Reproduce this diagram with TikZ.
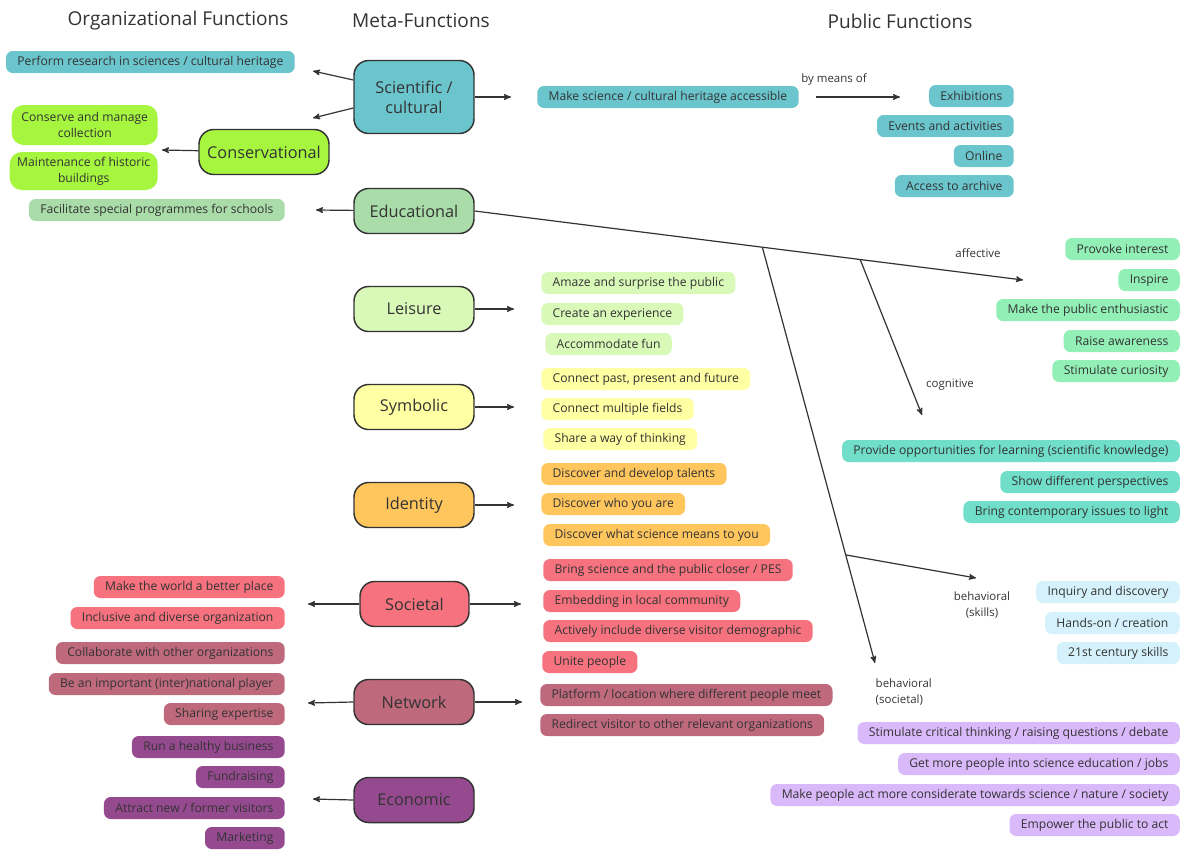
\documentclass[tikz,border=0pt]{standalone}
\usepackage{fontspec}
\setmainfont{Open Sans}
\usepackage{xcolor}
\usepackage{tikz}
\usetikzlibrary{arrows,positioning,calc}
\definecolor{txt}{HTML}{333333}
\definecolor{scicol}{HTML}{6BC5CD}
\definecolor{conscol}{HTML}{A6F53E}
\definecolor{educol}{HTML}{A9DCA9}
\definecolor{leiscol}{HTML}{D9F9B9}
\definecolor{symbcol}{HTML}{FFFFA3}
\definecolor{idencol}{HTML}{FFC65E}
\definecolor{soccol}{HTML}{F5727E}
\definecolor{netcol}{HTML}{BF697D}
\definecolor{econcol}{HTML}{954A8F}
\definecolor{affcol}{HTML}{92EFB5}
\definecolor{cogcol}{HTML}{70DEC9}
\definecolor{skillcol}{HTML}{D5F2FC}
\definecolor{behcol}{HTML}{DAB9FA}
\tikzset{>=stealth'}
\tikzset{meta node/.style={draw=txt,line width=1.1pt,rounded corners=11pt,minimum width=90pt,minimum height=33.75pt,
            font=\fontsize{12.2}{15}\selectfont,text=txt,align=center},
         item/.style={rounded corners=5pt,minimum height=16.5pt,inner xsep=8.5pt,inner ysep=0pt,
            font=\fontsize{9.1}{12}\selectfont,text=txt},
         big item/.style={item,rounded corners=9pt,align=center,inner xsep=0pt},
         head/.style={font=\fontsize{14.3}{18}\selectfont,text=txt},
         lbl/.style={font=\fontsize{8.6}{11.5}\selectfont,text=txt},
         link/.style={->,line width=0.9pt,draw=txt},
            }
\begin{document}
\begin{tikzpicture}[x=0.75pt,y=-0.75pt]
    \useasboundingbox (0,0) rectangle (1184,854);

    % headings
    \node[head] (h1) at (178,21) {Organizational Functions};
    \node[head] (h2) at (421,21) {Meta-Functions};
    \node[head] (h3) at (900,21) {Public Functions};

    % meta-functions
    \node[meta node,fill=scicol,minimum height=54.75pt] (sci) at (414,97) {Scientific /\\cultural};
    \node[meta node,fill=conscol,minimum width=97.5pt] (cons) at (264,152) {Conservational};
    \node[meta node,fill=educol] (edu) at (414,211) {Educational};
    \node[meta node,fill=leiscol] (leis) at (414,309) {Leisure};
    \node[meta node,fill=symbcol] (symb) at (414,407) {Symbolic};
    \node[meta node,fill=idencol] (iden) at (414,505) {Identity};
    \node[meta node,fill=soccol,minimum width=81.75pt] (soc) at (414.5,604) {Societal};
    \node[meta node,fill=netcol] (netw) at (414,702) {Network};
    \node[meta node,fill=econcol] (econ) at (414,800) {Economic};

    % organizational functions
    \node[item,fill=scicol,anchor=east] (res) at (295,62) {Perform research in sciences / cultural heritage};
    \node[big item,fill=conscol,anchor=east,minimum width=109.5pt,minimum height=30pt] (coll) at (158,125) {Conserve and manage\\collection};
    \node[big item,fill=conscol,anchor=east,minimum width=111pt,minimum height=28.5pt] (bldg) at (158,171) {Maintenance of historic\\buildings};
    \node[item,fill=educol,anchor=east] (schl) at (285,210) {Facilitate special programmes for schools};
    \node[item,fill=soccol,anchor=east] (wrld) at (285,587) {Make the world a better place};
    \node[item,fill=soccol,anchor=east] (incl) at (285,618) {Inclusive and diverse organization};
    \node[item,fill=netcol,anchor=east] (colb) at (285,653) {Collaborate with other organizations};
    \node[item,fill=netcol,anchor=east] (plyr) at (285,684) {Be an important (inter)national player};
    \node[item,fill=netcol,anchor=east] (expt) at (285,714) {Sharing expertise};
    \node[item,fill=econcol,anchor=east] (bsns) at (285,747) {Run a healthy business};
    \node[item,fill=econcol,anchor=east] (fund) at (285,777) {Fundraising};
    \node[item,fill=econcol,anchor=east] (visi) at (285,808) {Attract new / former visitors};
    \node[item,fill=econcol,anchor=east] (mark) at (285,838) {Marketing};

    % public functions, middle column
    \node[item,fill=scicol,anchor=west] (acc) at (537,97) {Make science / cultural heritage accessible};
    \node[item,fill=leiscol,anchor=west] (amaz) at (541,283) {Amaze and surprise the public};
    \node[item,fill=leiscol,anchor=west] (expr) at (541,314) {Create an experience};
    \node[item,fill=leiscol,anchor=west] (fun) at (545,344) {Accommodate fun};
    \node[item,fill=symbcol,anchor=west] (past) at (541,379) {Connect past, present and future};
    \node[item,fill=symbcol,anchor=west] (flds) at (541,409) {Connect multiple fields};
    \node[item,fill=symbcol,anchor=west] (thnk) at (543,439) {Share a way of thinking};
    \node[item,fill=idencol,anchor=west] (tlnt) at (541,474) {Discover and develop talents};
    \node[item,fill=idencol,anchor=west] (who) at (541,504) {Discover who you are};
    \node[item,fill=idencol,anchor=west] (mean) at (543,535) {Discover what science means to you};
    \node[item,fill=soccol,anchor=west] (pes) at (543,570) {Bring science and the public closer / PES};
    \node[item,fill=soccol,anchor=west] (locl) at (543,601) {Embedding in local community};
    \node[item,fill=soccol,anchor=west] (demo) at (543,631) {Actively include diverse visitor demographic};
    \node[item,fill=soccol,anchor=west] (unit) at (542,662) {Unite people};
    \node[item,fill=netcol,anchor=west] (pltf) at (540,695) {Platform / location where different people meet};
    \node[item,fill=netcol,anchor=west] (rdir) at (540,725) {Redirect visitor to other relevant organizations};

    % public functions, right column
    \node[item,fill=scicol,anchor=east] (exhb) at (1014,96) {Exhibitions};
    \node[item,fill=scicol,anchor=east] (evnt) at (1014,126) {Events and activities};
    \node[item,fill=scicol,anchor=east] (onl) at (1014,156) {Online};
    \node[item,fill=scicol,anchor=east] (arch) at (1014,186) {Access to archive};
    \node[item,fill=affcol,anchor=east] (prov) at (1180,249) {Provoke interest};
    \node[item,fill=affcol,anchor=east] (insp) at (1180,280) {Inspire};
    \node[item,fill=affcol,anchor=east] (enth) at (1180,310) {Make the public enthusiastic};
    \node[item,fill=affcol,anchor=east] (awar) at (1180,341) {Raise awareness};
    \node[item,fill=affcol,anchor=east] (curi) at (1180,371) {Stimulate curiosity};
    \node[item,fill=cogcol,anchor=east] (lrn) at (1180,451) {Provide opportunities for learning (scientific knowledge)};
    \node[item,fill=cogcol,anchor=east] (pers) at (1180,482) {Show different perspectives};
    \node[item,fill=cogcol,anchor=east] (issu) at (1180,512) {Bring contemporary issues to light};
    \node[item,fill=skillcol,anchor=east] (inq) at (1180,592) {Inquiry and discovery};
    \node[item,fill=skillcol,anchor=east] (hand) at (1180,623) {Hands-on / creation};
    \node[item,fill=skillcol,anchor=east] (cent) at (1180,653) {21st century skills};
    \node[item,fill=behcol,anchor=east] (crit) at (1180,733) {Stimulate critical thinking / raising questions / debate};
    \node[item,fill=behcol,anchor=east] (jobs) at (1180,764) {Get more people into science education / jobs};
    \node[item,fill=behcol,anchor=east] (cons2) at (1180,795) {Make people act more considerate towards science / nature / society};
    \node[item,fill=behcol,anchor=east] (empw) at (1180,825) {Empower the public to act};

    % arrow ends
    \coordinate (sciL1) at (313,71);
    \coordinate (sciL2) at (313,118);
    \coordinate (consL) at (162,150);
    \coordinate (eduL) at (316,210);
    \coordinate (socL) at (308,604);
    \coordinate (netL) at (308,703);
    \coordinate (econL) at (313,799);
    \coordinate (sciR) at (511,97);
    \coordinate (leisR) at (514,309);
    \coordinate (symbR) at (514,407);
    \coordinate (idenR) at (514,505);
    \coordinate (socR) at (521,604);
    \coordinate (netR) at (522,702);
    \coordinate (bm) at (900,97);
    \coordinate (aff) at (1023,280);
    \coordinate (b1) at ($(edu.east)!0.5246!(aff)$);
    \coordinate (b2) at ($(edu.east)!0.703!(aff)$);
    \coordinate (cog) at (922,415);
    \coordinate (soci) at (875,663);
    \coordinate (b3) at ($(b1)!0.74!(soci)$);
    \coordinate (skl) at (976,578);

    \path
    ([yshift=12.75pt]sci.west) edge[link] (sciL1)
    ([yshift=-8.25pt]sci.west) edge[link] (sciL2)
    (cons) edge[link] (consL)
    (edu) edge[link] (eduL)
    (soc) edge[link] (socL)
    (netw.west) edge[link] (netL)
    (econ.west) edge[link] (econL)
    (sci) edge[link] (sciR)
    (leis) edge[link] (leisR)
    (symb) edge[link] (symbR)
    (iden) edge[link] (idenR)
    (soc) edge[link] (socR)
    (netw.east) edge[link] (netR);

    \draw[link,shorten <=12.75pt] (acc.east) -- (bm);
    \draw[link] (edu.east) -- (aff);
    \draw[link] (b1) -- (soci);
    \draw[link] (b2) -- (cog);
    \draw[link] (b3) -- (skl);

    % labels
    \node[lbl] (lbm) at (834,79) {by means of};
    \node[lbl] (laff) at (978,253) {affective};
    \node[lbl] (lcog) at (950,385) {cognitive};
    \node[lbl,align=center] (lskl) at (982,605) {behavioral\\(skills)};
    \node[lbl,align=left,anchor=west] (lsoc) at (871,692) {behavioral\\(societal)};

\end{tikzpicture}
\end{document}
